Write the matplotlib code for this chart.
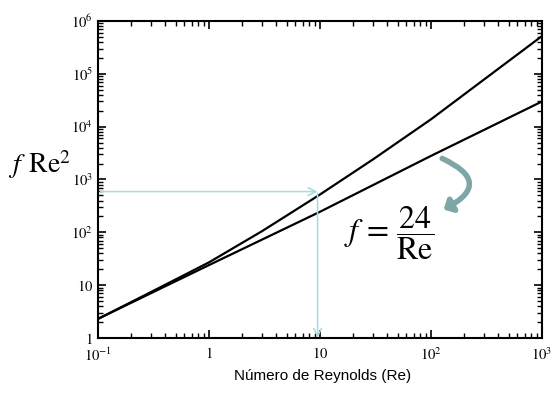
import matplotlib.pyplot as plt
import numpy as np
from matplotlib.patches import FancyArrowPatch

# curve values
re_upper = [0.1, 0.3, 1, 3, 10, 30, 100, 300, 1000]
fre2_upper = [2.3, 7.4, 27, 105, 520, 2400, 13800, 78000, 520000]
re_stokes = [0.1, 1, 10, 100, 1000]
fre2_stokes = [2.3, 24, 245, 2800, 30000]

# guide lines (read-off example)
guide_re = 9.5
guide_val = 590

xticks = [0.1, 1, 10, 100, 1000]
xlabels = [r'$10^{-1}$', r'$1$', r'$10$', r'$10^{2}$', r'$10^{3}$']
yticks = [1, 10, 100, 1e3, 1e4, 1e5, 1e6]
ylabels = [r'$1$', r'$10$', r'$10^{2}$', r'$10^{3}$', r'$10^{4}$', r'$10^{5}$', r'$10^{6}$']

plt.rcParams['mathtext.fontset'] = 'stix'

fig = plt.figure(figsize=(5.52, 3.96), dpi=100)
ax = fig.add_axes([0.1775, 0.1465, 0.8045, 0.8005])

ax.plot(re_upper, fre2_upper, color='black', lw=1.6)
ax.plot(re_stokes, fre2_stokes, color='black', lw=1.6)

ax.set_xscale('log')
ax.set_yscale('log')
ax.set_xlim(0.1, 1000)
ax.set_ylim(1, 1e6)

ax.set_xticks(xticks)
ax.set_xticklabels(xlabels)
ax.set_yticks(yticks)
ax.set_yticklabels(ylabels)
ax.tick_params(which='both', direction='in', top=True, right=True, labelsize=10.5)
ax.tick_params(axis='x', pad=6)
ax.tick_params(which='major', length=6, width=1.2)
ax.tick_params(which='minor', length=3.5, width=1.0)
for s in ax.spines.values():
    s.set_linewidth(1.5)

cyan = '#a6dbe0'
# horizontal guide with arrow to the curve
ax.annotate('', xy=(guide_re, guide_val), xytext=(0.105, guide_val),
            arrowprops=dict(arrowstyle='->', color=cyan, lw=1.1, shrinkA=0, shrinkB=0,
                            mutation_scale=14))
# vertical guide down to the axis
ax.annotate('', xy=(guide_re, 1.0), xytext=(guide_re, guide_val * 0.93),
            arrowprops=dict(arrowstyle='->', color=cyan, lw=1.1, shrinkA=0, shrinkB=0,
                            mutation_scale=14))

# curved arrow pointing at the Stokes line label
arr = FancyArrowPatch((126, 2500), (130, 270), connectionstyle='arc3,rad=-1.0',
                      arrowstyle='-|>,head_width=3,head_length=3', color='#7fa6a6',
                      lw=4, mutation_scale=1.5, shrinkA=0, shrinkB=0,
                      transform=ax.transData)
ax.add_patch(arr)

ax.text(0.655, 0.33, r'$f\,=\,\dfrac{24}{\mathrm{Re}}$', transform=ax.transAxes,
        fontsize=23, ha='center', va='center')

fig.text(0.015, 0.585, r'$f\;\,\mathrm{Re}^2$', fontsize=20, ha='left', va='center')
fig.text(0.585, 0.05, 'Número de Reynolds (Re)', fontsize=11, ha='center', va='center',
         family='Liberation Sans')

fig.savefig('out.png', dpi=100)
